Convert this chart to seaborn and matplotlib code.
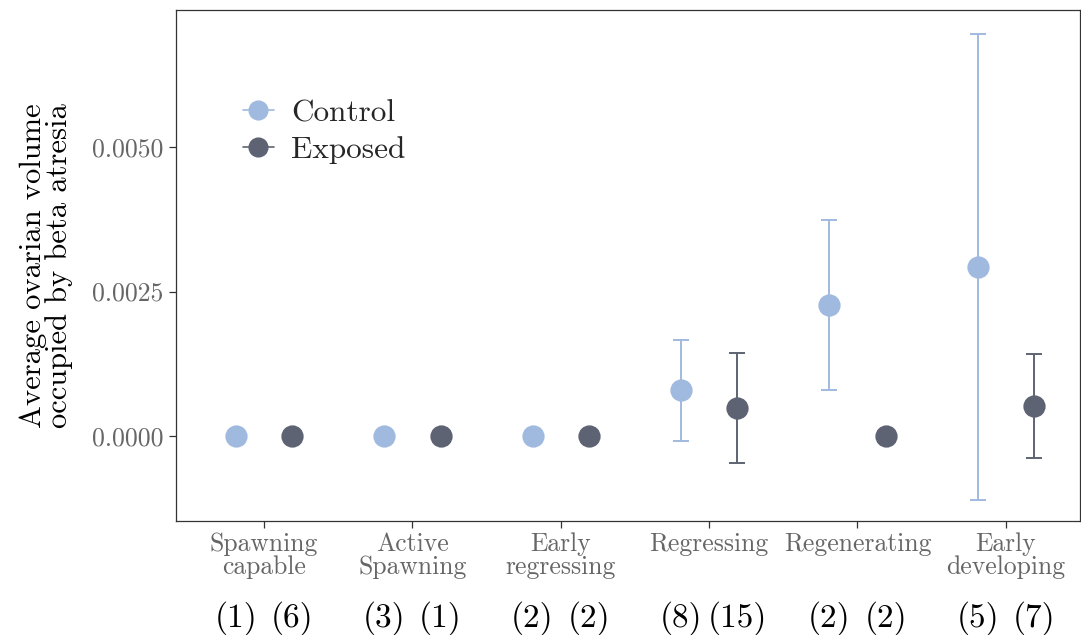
import numpy as np
import pandas as pd
import matplotlib
matplotlib.use("Agg")
import matplotlib.pyplot as plt
from matplotlib.lines import Line2D
import seaborn as sns

# Reproductive stages and group summaries (mean with lower/upper interval bounds)
stages = ["Spawning\ncapable", "Active\nSpawning", "Early\nregressing",
          "Regressing", "Regenerating", "Early\ndeveloping"]
groups = ["Control", "Exposed"]

control_mean = [0.0, 0.0, 0.0, 0.00080, 0.00227, 0.00292]
control_lo = [np.nan, np.nan, np.nan, -0.00009, 0.00080, -0.00111]
control_hi = [np.nan, np.nan, np.nan, 0.00166, 0.00373, 0.00696]

exposed_mean = [0.0, 0.0, 0.0, 0.00048, 0.0, 0.00052]
exposed_lo = [np.nan, np.nan, np.nan, -0.00047, np.nan, -0.00038]
exposed_hi = [np.nan, np.nan, np.nan, 0.00144, np.nan, 0.00142]

control_n = [1, 3, 2, 8, 2, 5]
exposed_n = [6, 1, 2, 15, 2, 7]

colors = {"Control": "#a0badf", "Exposed": "#5e6373"}
dodge = 0.38

df = pd.DataFrame({
    "stage": stages * 2,
    "group": ["Control"] * 6 + ["Exposed"] * 6,
    "mean": control_mean + exposed_mean,
    "lo": control_lo + exposed_lo,
    "hi": control_hi + exposed_hi,
    "n": control_n + exposed_n,
})

sns.set_theme(style="white")
plt.rcParams["font.family"] = ["cmr10", "DejaVu Serif"]
plt.rcParams["mathtext.fontset"] = "cm"
plt.rcParams["axes.formatter.use_mathtext"] = True

fig = plt.figure(figsize=(10.81, 6.35), dpi=100)
ax = fig.add_axes([176 / 1081, 1 - 521 / 635, (1080 - 176) / 1081, (521 - 10) / 635])

sns.pointplot(data=df, x="stage", y="mean", hue="group", order=stages,
              hue_order=groups, palette=colors, dodge=dodge, linestyle="none",
              errorbar=None, markers="o", markersize=14, ax=ax, legend=False,
              zorder=3)

# Interval bars at the dodged positions
offsets = {"Control": -dodge / 2, "Exposed": dodge / 2}
for g in groups:
    sub = df[df["group"] == g].reset_index(drop=True)
    xs = np.arange(len(stages)) + offsets[g]
    ok = sub["lo"].notna().to_numpy()
    m = sub["mean"].to_numpy()
    yerr = np.vstack([m - sub["lo"].to_numpy(), sub["hi"].to_numpy() - m])
    ax.errorbar(xs[ok], m[ok], yerr=yerr[:, ok], fmt="none",
                ecolor=colors[g], elinewidth=1.4, capsize=5.5, capthick=1.4,
                zorder=2)
    # Sample sizes under each point
    for x, n in zip(xs, sub["n"]):
        ax.text(x, -0.19, f"({n})", transform=ax.get_xaxis_transform(),
                ha="center", va="center", fontsize=24, color="black")

ax.set_xlim(-0.593, 5.5)
ax.set_ylim(-0.00147, 0.00737)
ax.set_yticks([0.0, 0.0025, 0.0050])
ax.set_yticklabels(["0.0000", "0.0025", "0.0050"])
ax.set_xlabel("")
ax.set_ylabel("Average ovarian volume\noccupied by beta atresia",
              fontsize=22, color="black", linespacing=0.9, labelpad=14)

ax.tick_params(axis="both", which="both", length=5, width=0.9,
               color="#333333", labelcolor="#666666", labelsize=18.5,
               bottom=True, left=True, direction="out", pad=4)
ax.tick_params(axis="x", pad=3)
for lab in ax.get_xticklabels():
    lab.set_linespacing(0.95)

for s in ax.spines.values():
    s.set_color("#333333")
    s.set_linewidth(0.9)

handles = [Line2D([0], [0], color=colors[g], marker="o", markersize=13.5,
                  linewidth=1.2, label=g) for g in groups]
ax.legend(handles=handles, loc="upper left", bbox_to_anchor=(0.06, 0.85),
          frameon=False, fontsize=22.5, handlelength=1.0, handletextpad=0.55,
          labelspacing=0.3, borderaxespad=0)

fig.savefig("out.png", dpi=100)
